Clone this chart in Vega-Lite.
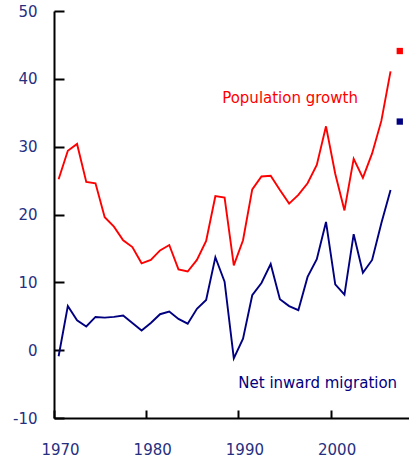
{
  "$schema": "https://vega.github.io/schema/vega-lite/v6.json",
  "width": 355,
  "height": 407,
  "autosize": {"type": "none"},
  "padding": {"left": 54, "top": 11, "right": 0, "bottom": 47},
  "background": "white",
  "config": {
    "view": {"stroke": null},
    "font": "DejaVu Sans",
    "axis": {
      "grid": false,
      "domainColor": "#000000",
      "domainWidth": 2,
      "tickColor": "#000000",
      "tickWidth": 2,
      "labelColor": "#26307f",
      "labelFont": "DejaVu Sans",
      "labelFontSize": 15,
      "title": null
    }
  },
  "datasets": {
    "series": [
      {"year": 1970.5, "value": 25.2, "series": "Population growth"},
      {"year": 1971.5, "value": 29.4, "series": "Population growth"},
      {"year": 1972.5, "value": 30.4, "series": "Population growth"},
      {"year": 1973.5, "value": 24.8, "series": "Population growth"},
      {"year": 1974.5, "value": 24.6, "series": "Population growth"},
      {"year": 1975.5, "value": 19.6, "series": "Population growth"},
      {"year": 1976.5, "value": 18.2, "series": "Population growth"},
      {"year": 1977.5, "value": 16.2, "series": "Population growth"},
      {"year": 1978.5, "value": 15.2, "series": "Population growth"},
      {"year": 1979.5, "value": 12.8, "series": "Population growth"},
      {"year": 1980.5, "value": 13.3, "series": "Population growth"},
      {"year": 1981.5, "value": 14.7, "series": "Population growth"},
      {"year": 1982.5, "value": 15.5, "series": "Population growth"},
      {"year": 1983.5, "value": 11.9, "series": "Population growth"},
      {"year": 1984.5, "value": 11.6, "series": "Population growth"},
      {"year": 1985.5, "value": 13.3, "series": "Population growth"},
      {"year": 1986.5, "value": 16.1, "series": "Population growth"},
      {"year": 1987.5, "value": 22.7, "series": "Population growth"},
      {"year": 1988.5, "value": 22.5, "series": "Population growth"},
      {"year": 1989.5, "value": 12.5, "series": "Population growth"},
      {"year": 1990.5, "value": 16.2, "series": "Population growth"},
      {"year": 1991.5, "value": 23.7, "series": "Population growth"},
      {"year": 1992.5, "value": 25.6, "series": "Population growth"},
      {"year": 1993.5, "value": 25.7, "series": "Population growth"},
      {"year": 1994.5, "value": 23.6, "series": "Population growth"},
      {"year": 1995.5, "value": 21.6, "series": "Population growth"},
      {"year": 1996.5, "value": 22.9, "series": "Population growth"},
      {"year": 1997.5, "value": 24.6, "series": "Population growth"},
      {"year": 1998.5, "value": 27.3, "series": "Population growth"},
      {"year": 1999.5, "value": 33.0, "series": "Population growth"},
      {"year": 2000.5, "value": 26.0, "series": "Population growth"},
      {"year": 2001.5, "value": 20.6, "series": "Population growth"},
      {"year": 2002.5, "value": 28.2, "series": "Population growth"},
      {"year": 2003.5, "value": 25.4, "series": "Population growth"},
      {"year": 2004.5, "value": 29.0, "series": "Population growth"},
      {"year": 2005.5, "value": 33.8, "series": "Population growth"},
      {"year": 2006.5, "value": 41.1, "series": "Population growth"},
      {"year": 1970.5, "value": -0.9, "series": "Net inward migration"},
      {"year": 1971.5, "value": 6.5, "series": "Net inward migration"},
      {"year": 1972.5, "value": 4.4, "series": "Net inward migration"},
      {"year": 1973.5, "value": 3.5, "series": "Net inward migration"},
      {"year": 1974.5, "value": 4.9, "series": "Net inward migration"},
      {"year": 1975.5, "value": 4.8, "series": "Net inward migration"},
      {"year": 1976.5, "value": 4.9, "series": "Net inward migration"},
      {"year": 1977.5, "value": 5.1, "series": "Net inward migration"},
      {"year": 1978.5, "value": 4.0, "series": "Net inward migration"},
      {"year": 1979.5, "value": 2.9, "series": "Net inward migration"},
      {"year": 1980.5, "value": 4.0, "series": "Net inward migration"},
      {"year": 1981.5, "value": 5.3, "series": "Net inward migration"},
      {"year": 1982.5, "value": 5.7, "series": "Net inward migration"},
      {"year": 1983.5, "value": 4.6, "series": "Net inward migration"},
      {"year": 1984.5, "value": 3.9, "series": "Net inward migration"},
      {"year": 1985.5, "value": 6.1, "series": "Net inward migration"},
      {"year": 1986.5, "value": 7.4, "series": "Net inward migration"},
      {"year": 1987.5, "value": 13.7, "series": "Net inward migration"},
      {"year": 1988.5, "value": 10.1, "series": "Net inward migration"},
      {"year": 1989.5, "value": -1.2, "series": "Net inward migration"},
      {"year": 1990.5, "value": 1.7, "series": "Net inward migration"},
      {"year": 1991.5, "value": 8.1, "series": "Net inward migration"},
      {"year": 1992.5, "value": 9.9, "series": "Net inward migration"},
      {"year": 1993.5, "value": 12.7, "series": "Net inward migration"},
      {"year": 1994.5, "value": 7.5, "series": "Net inward migration"},
      {"year": 1995.5, "value": 6.5, "series": "Net inward migration"},
      {"year": 1996.5, "value": 5.9, "series": "Net inward migration"},
      {"year": 1997.5, "value": 10.8, "series": "Net inward migration"},
      {"year": 1998.5, "value": 13.4, "series": "Net inward migration"},
      {"year": 1999.5, "value": 18.9, "series": "Net inward migration"},
      {"year": 2000.5, "value": 9.7, "series": "Net inward migration"},
      {"year": 2001.5, "value": 8.2, "series": "Net inward migration"},
      {"year": 2002.5, "value": 17.1, "series": "Net inward migration"},
      {"year": 2003.5, "value": 11.4, "series": "Net inward migration"},
      {"year": 2004.5, "value": 13.3, "series": "Net inward migration"},
      {"year": 2005.5, "value": 18.7, "series": "Net inward migration"},
      {"year": 2006.5, "value": 23.6, "series": "Net inward migration"}
    ],
    "markers": [
      {"year": 2007.5, "value": 44.1, "series": "Population growth"},
      {"year": 2007.5, "value": 33.7, "series": "Net inward migration"}
    ],
    "labels": [
      {"year": 1995.6, "value": 37.2, "label": "Population growth", "series": "Population growth"},
      {"year": 1998.6, "value": -4.9, "label": "Net inward migration", "series": "Net inward migration"}
    ]
  },
  "layer": [
    {
      "mark": {"type": "rule", "color": "#000000", "strokeWidth": 1},
      "encoding": {"y": {"datum": 0, "type": "quantitative"}}
    },
    {
      "mark": {"type": "rule", "color": "#000000", "strokeWidth": 2},
      "encoding": {"y": {"datum": 50, "type": "quantitative"}}
    },
    {
      "data": {"name": "series"},
      "mark": {"type": "line", "strokeWidth": 1.9, "clip": true},
      "encoding": {
        "x": {
          "field": "year",
          "type": "quantitative",
          "scale": {"domain": [1970, 2008.5], "nice": false, "zero": false},
          "axis": {
            "values": [1970, 1980, 1990, 2000],
            "format": "d",
            "tickSize": -8,
            "labelPadding": 32,
            "labelOffset": 6,
            "labelFlush": false,
            "labelOverlap": false
          }
        },
        "y": {
          "field": "value",
          "type": "quantitative",
          "scale": {"domain": [-10, 50], "nice": false, "zero": false},
          "axis": {
            "values": [-10, 0, 10, 20, 30, 40, 50],
            "labelExpr": "'' + datum.value",
            "tickSize": -10,
            "labelPadding": 27,
            "labelFlush": false,
            "labelOverlap": false
          }
        },
        "color": {
          "field": "series",
          "type": "nominal",
          "scale": {"domain": ["Population growth", "Net inward migration"], "range": ["#ff0000", "#000080"]},
          "legend": null
        },
        "detail": {"field": "series"}
      }
    },
    {
      "data": {"name": "markers"},
      "mark": {"type": "square", "size": 40, "opacity": 1, "filled": true},
      "encoding": {
        "x": {"field": "year", "type": "quantitative"},
        "y": {"field": "value", "type": "quantitative"},
        "color": {"field": "series", "type": "nominal", "legend": null}
      }
    },
    {
      "data": {"name": "labels"},
      "mark": {"type": "text", "fontSize": 15, "font": "DejaVu Sans", "align": "center", "baseline": "middle"},
      "encoding": {
        "x": {"field": "year", "type": "quantitative"},
        "y": {"field": "value", "type": "quantitative"},
        "text": {"field": "label"},
        "color": {"field": "series", "type": "nominal", "legend": null}
      }
    }
  ]
}
